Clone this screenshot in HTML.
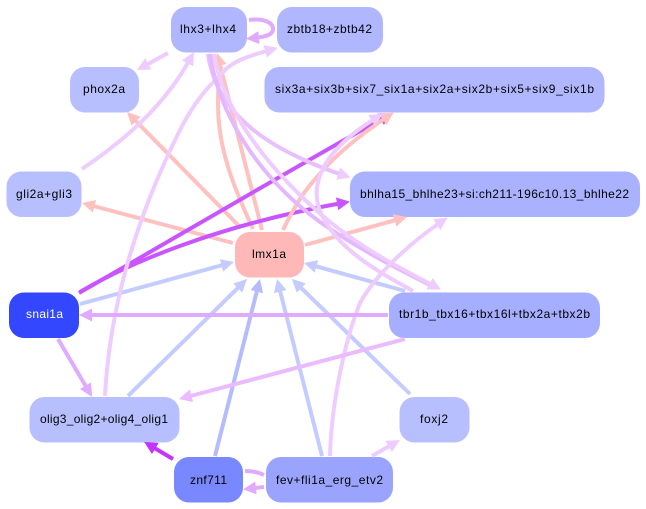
<!DOCTYPE html>
<html><head><meta charset="utf-8"><style>
html,body{margin:0;padding:0;background:#fff;width:646px;height:509px;overflow:hidden}
svg{display:block}
text{font-family:"Liberation Sans",sans-serif;font-size:12px;text-anchor:middle;fill:#000}
path{fill:none;stroke-width:4}
</style></head><body>
<svg width="646" height="509" viewBox="0 0 646 509" xmlns="http://www.w3.org/2000/svg">
<defs>
<marker id="p" markerUnits="userSpaceOnUse" markerWidth="15" markerHeight="14" refX="5" refY="6.5" orient="auto"><polygon points="0,0 13,6.5 0,13" fill="#eeccff"/></marker>
<marker id="m" markerUnits="userSpaceOnUse" markerWidth="15" markerHeight="14" refX="5" refY="6.5" orient="auto"><polygon points="0,0 13,6.5 0,13" fill="#e0aaff"/></marker>
<marker id="e" markerUnits="userSpaceOnUse" markerWidth="15" markerHeight="14" refX="5" refY="6.5" orient="auto"><polygon points="0,0 13,6.5 0,13" fill="#eabbff"/></marker>
<marker id="s" markerUnits="userSpaceOnUse" markerWidth="15" markerHeight="14" refX="5" refY="6.5" orient="auto"><polygon points="0,0 13,6.5 0,13" fill="#c855ff"/></marker>
<marker id="t" markerUnits="userSpaceOnUse" markerWidth="15" markerHeight="14" refX="5" refY="6.5" orient="auto"><polygon points="0,0 13,6.5 0,13" fill="#c433ff"/></marker>
<marker id="r" markerUnits="userSpaceOnUse" markerWidth="15" markerHeight="14" refX="5" refY="6.5" orient="auto"><polygon points="0,0 13,6.5 0,13" fill="#ffc0c0"/></marker>
<marker id="b" markerUnits="userSpaceOnUse" markerWidth="15" markerHeight="14" refX="5" refY="6.5" orient="auto"><polygon points="0,0 13,6.5 0,13" fill="#c4ccff"/></marker>
<marker id="c" markerUnits="userSpaceOnUse" markerWidth="15" markerHeight="14" refX="5" refY="6.5" orient="auto"><polygon points="0,0 13,6.5 0,13" fill="#b4bcff"/></marker>
</defs>

<g>
<rect x="171" y="7" width="76" height="45.5" rx="15" fill="#b0b7ff"/>
<rect x="277" y="7" width="106" height="45.5" rx="15" fill="#b0b7ff"/>
<rect x="70" y="67" width="69" height="45.5" rx="15" fill="#b8bfff"/>
<rect x="264.5" y="67" width="340" height="45.5" rx="15" fill="#b0b7ff"/>
<rect x="6.5" y="171.5" width="75" height="45.5" rx="15" fill="#b8bfff"/>
<rect x="350" y="171.5" width="290" height="45.5" rx="15" fill="#aab2ff"/>
<rect x="235" y="232" width="69" height="45.5" rx="15" fill="#ffb8b8"/>
<rect x="9" y="292.5" width="70" height="45.5" rx="15" fill="#3347ff"/>
<rect x="389" y="292.5" width="211" height="45.5" rx="15" fill="#a6aeff"/>
<rect x="29.5" y="397" width="150" height="45.5" rx="15" fill="#b8bfff"/>
<rect x="399.5" y="397" width="70" height="45.5" rx="15" fill="#b8bfff"/>
<rect x="174" y="457" width="69" height="45.5" rx="15" fill="#7a88ff"/>
<rect x="266" y="457" width="127" height="45.5" rx="15" fill="#9aa4ff"/>
</g>

<!-- blue edges -->
<path d="M80,304 L226.3,264.1" stroke="#c4ccff" marker-end="url(#b)"/>
<path d="M128,396 L241.3,284.6" stroke="#c4ccff" marker-end="url(#b)"/>
<path d="M215,456 L258,286.8" stroke="#b4bcff" marker-end="url(#c)"/>
<path d="M322,456 L279,286.8" stroke="#c4ccff" marker-end="url(#b)"/>
<path d="M410,394 L297.7,284.6" stroke="#c4ccff" marker-end="url(#b)"/>
<path d="M405,291 L311.7,265.1" stroke="#c4ccff" marker-end="url(#b)"/>

<!-- salmon edges -->
<path d="M241,228 L132.6,117.7" stroke="#ffc0c0" marker-end="url(#r)"/>
<path d="M233,243 L89.7,205" stroke="#ffc0c0" marker-end="url(#r)"/>
<path d="M305,245 L399.3,219.1" stroke="#ffc0c0" marker-end="url(#r)"/>
<path d="M262,230 L219,60.8" stroke="#ffc0c0" marker-end="url(#r)"/>
<path d="M253,229 C235,190 218,150 218,105 C218,90 219,75 220,62" stroke="#ffc0c0"/>

<!-- strong purple -->
<path d="M79,293 C180,235 290,170 385,117" stroke="#c855ff" marker-end="url(#s)"/>
<path d="M80,292 C130,262 220,225 342,203" stroke="#c855ff" marker-end="url(#s)"/>
<path d="M283,230 C295,205 305,190 317,177 C335,155 360,135 387,117" stroke="#ffc0c0" marker-end="url(#r)"/>

<!-- pale edges -->
<path d="M168,53 L144,66.2" stroke="#eeccff" marker-end="url(#p)"/>
<path d="M82,169 C125,140 165,105 190,59" stroke="#eeccff" marker-end="url(#p)"/>
<path d="M105,396 C109,320 130,230 180,130 C195,100 210,85 223,72 C232,62 245,57 270,50" stroke="#eeccff" marker-end="url(#p)"/>
<path d="M208,54 C213,90 235,128 300,158 C315,165 330,171 343,175" stroke="#e8c0ff" marker-end="url(#p)"/>
<path d="M210,54 C218,110 255,175 320,222 C360,250 400,270 434,287" stroke="#e4b8ff"/>
<path d="M214,54 C222,105 262,165 330,222 C365,250 400,268 434,286" stroke="#eeccff" marker-end="url(#p)"/>
<path d="M413,291 C375,270 330,245 318,205 C310,170 340,140 376,118" stroke="#eeccff" marker-end="url(#p)"/>
<path d="M330,456 C331,410 343,345 360,303 C375,275 410,243 441,222" stroke="#eeccff" marker-end="url(#p)"/>
<path d="M372,456 L393,444" stroke="#eeccff" marker-end="url(#p)"/>

<!-- mid purple -->
<path d="M388,315 L87,315" stroke="#e0aaff" marker-end="url(#m)"/>
<path d="M58,339 L88,390" stroke="#e0aaff" marker-end="url(#m)"/>
<path d="M405,339 L186.7,397" stroke="#eabbff" marker-end="url(#e)"/>
<path d="M173,459 L151,446" stroke="#c433ff" marker-end="url(#t)"/>
<path d="M249,20 C265,18 273,23 273,29 C273,35 265,37 254,38" stroke="#e0aaff" marker-end="url(#m)"/>
<path d="M245,471 C252,471 258,472 264,475" stroke="#e0aaff"/>
<path d="M264,487 L251,488.5" stroke="#e0aaff" marker-end="url(#m)"/>

<text x="208" y="33" textLength="56">lhx3+lhx4</text>
<text x="329.5" y="33" textLength="85">zbtb18+zbtb42</text>
<text x="104" y="93" textLength="42">phox2a</text>
<text x="434.5" y="93" textLength="319">six3a+six3b+six7_six1a+six2a+six2b+six5+six9_six1b</text>
<text x="44" y="198" textLength="56">gli2a+gli3</text>
<text x="494.5" y="198" textLength="269">bhlha15_bhlhe23+si:ch211-196c10.13_bhlhe22</text>
<text x="269" y="258" textLength="34">lmx1a</text>
<text x="44.5" y="318" textLength="37" style="fill:#fff">snai1a</text>
<text x="494.5" y="318" textLength="191">tbr1b_tbx16+tbx16l+tbx2a+tbx2b</text>
<text x="104" y="423" textLength="128">olig3_olig2+olig4_olig1</text>
<text x="434" y="423" textLength="28">foxj2</text>
<text x="208.5" y="484" textLength="37">znf711</text>
<text x="329.5" y="484" textLength="107">fev+fli1a_erg_etv2</text>
</svg>
</body></html>
